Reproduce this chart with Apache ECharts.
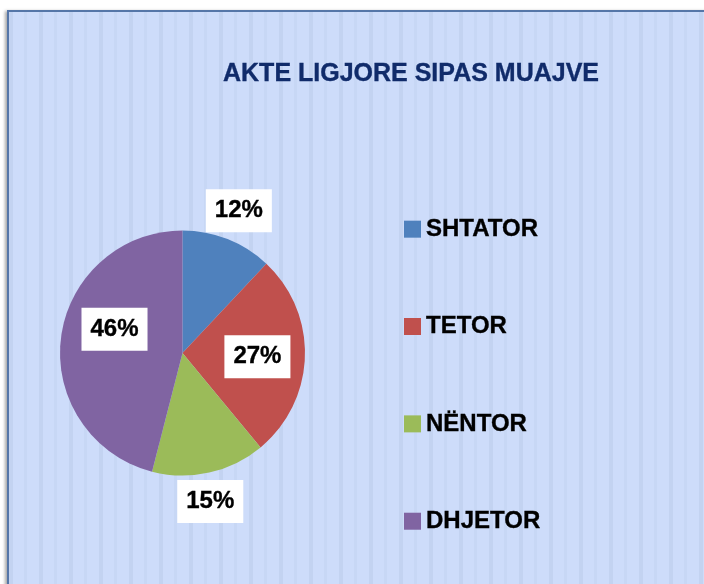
<!DOCTYPE html>
<html>
<head>
<meta charset="utf-8">
<script src="https://cdn.jsdelivr.net/npm/echarts@6/dist/echarts.min.js"></script>
<style>
  html, body { margin: 0; padding: 0; background: #ffffff; }
  #wrap { position: relative; width: 704px; height: 584px; overflow: hidden; }
  #bg {
    position: absolute; left: 7px; top: 10px; width: 720px; height: 600px;
    border: 2px solid #5576a8;
    box-shadow: -2px 1px 3px rgba(0,0,0,0.35);
    background-color: #cddcfa;
    background-image: repeating-linear-gradient(90deg,
      #c3d3f1 0px, #c3d3f1 4px,
      #cddcfa 4px, #cddcfa 15px,
      #c7d7f5 15px, #c7d7f5 18px,
      #cddcfa 18px, #cddcfa 30px);
  }
  #chart { position: absolute; left: 0; top: 0; width: 704px; height: 584px; }
</style>
</head>
<body>
<div id="wrap">
  <div id="bg"></div>
  <div id="chart"></div>
</div>
<script>
// data
const months = ['SHTATOR', 'TETOR', 'NËNTOR', 'DHJETOR'];
const values = [12, 27, 15, 46];
const colors = ['#4f81bd', '#c0504d', '#9bbb59', '#8064a2'];

// label placement (distance from centre in px, angle nudge in degrees)
const labelDist = [153, 75, 151, 72];
const labelNudge = [0, 1, 2, 12];

const cx = 182.5, cy = 353, R = 122.5;
const total = values.reduce((a, b) => a + b, 0);

function midAngle(i) {
  let acc = 0;
  for (let k = 0; k < i; k++) acc += values[k];
  return (acc + values[i] / 2) / total * 360;
}

const font = 'Liberation Sans';
const chart = echarts.init(document.getElementById('chart'), null, { renderer: 'canvas' });

const option = {
  backgroundColor: 'transparent',
  animation: false,
  title: {
    text: 'AKTE LIGJORE SIPAS MUAJVE',
    left: 223,
    top: 59,
    padding: 0,
    textStyle: {
      color: '#102b6a',
      fontFamily: font,
      fontWeight: 'bold',
      fontSize: 25,
      lineHeight: 30,
      textBorderColor: '#102b6a',
      textBorderWidth: 0.35
    }
  },
  legend: {
    orient: 'vertical',
    left: 404,
    top: 217,
    padding: 0,
    itemWidth: 17,
    itemHeight: 17,
    itemGap: 73,
    itemTextGap: 8,
    icon: 'rect',
    data: months,
    textStyle: {
      color: '#000',
      fontFamily: font,
      fontWeight: 'bold',
      fontSize: 24,
      lineHeight: 24,
      textBorderColor: '#000',
      textBorderWidth: 0.35
    }
  },
  series: [
    {
      type: 'pie',
      center: [cx, cy],
      radius: R,
      startAngle: 90,
      clockwise: true,
      silent: true,
      data: months.map((m, i) => ({
        name: m,
        value: values[i],
        itemStyle: { color: colors[i] }
      })),
      label: {
        show: true,
        position: 'inside',
        formatter: p => Math.round(p.percent) + '%',
        color: '#000',
        fontFamily: font,
        fontWeight: 'bold',
        fontSize: 24,
        lineHeight: 25,
        textBorderColor: '#000',
        textBorderWidth: 0.35,
        backgroundColor: '#ffffff',
        padding: [9, 9, 9, 9]
      },
      labelLine: { show: false },
      labelLayout: function (params) {
        const i = params.dataIndex;
        const r = params.labelRect;
        const a = (midAngle(i) + labelNudge[i]) * Math.PI / 180;
        const tx = cx + labelDist[i] * Math.sin(a);
        const ty = cy - labelDist[i] * Math.cos(a);
        return {
          dx: tx - (r.x + r.width / 2),
          dy: ty - (r.y + r.height / 2)
        };
      }
    }
  ]
};

chart.setOption(option);
</script>
</body>
</html>
